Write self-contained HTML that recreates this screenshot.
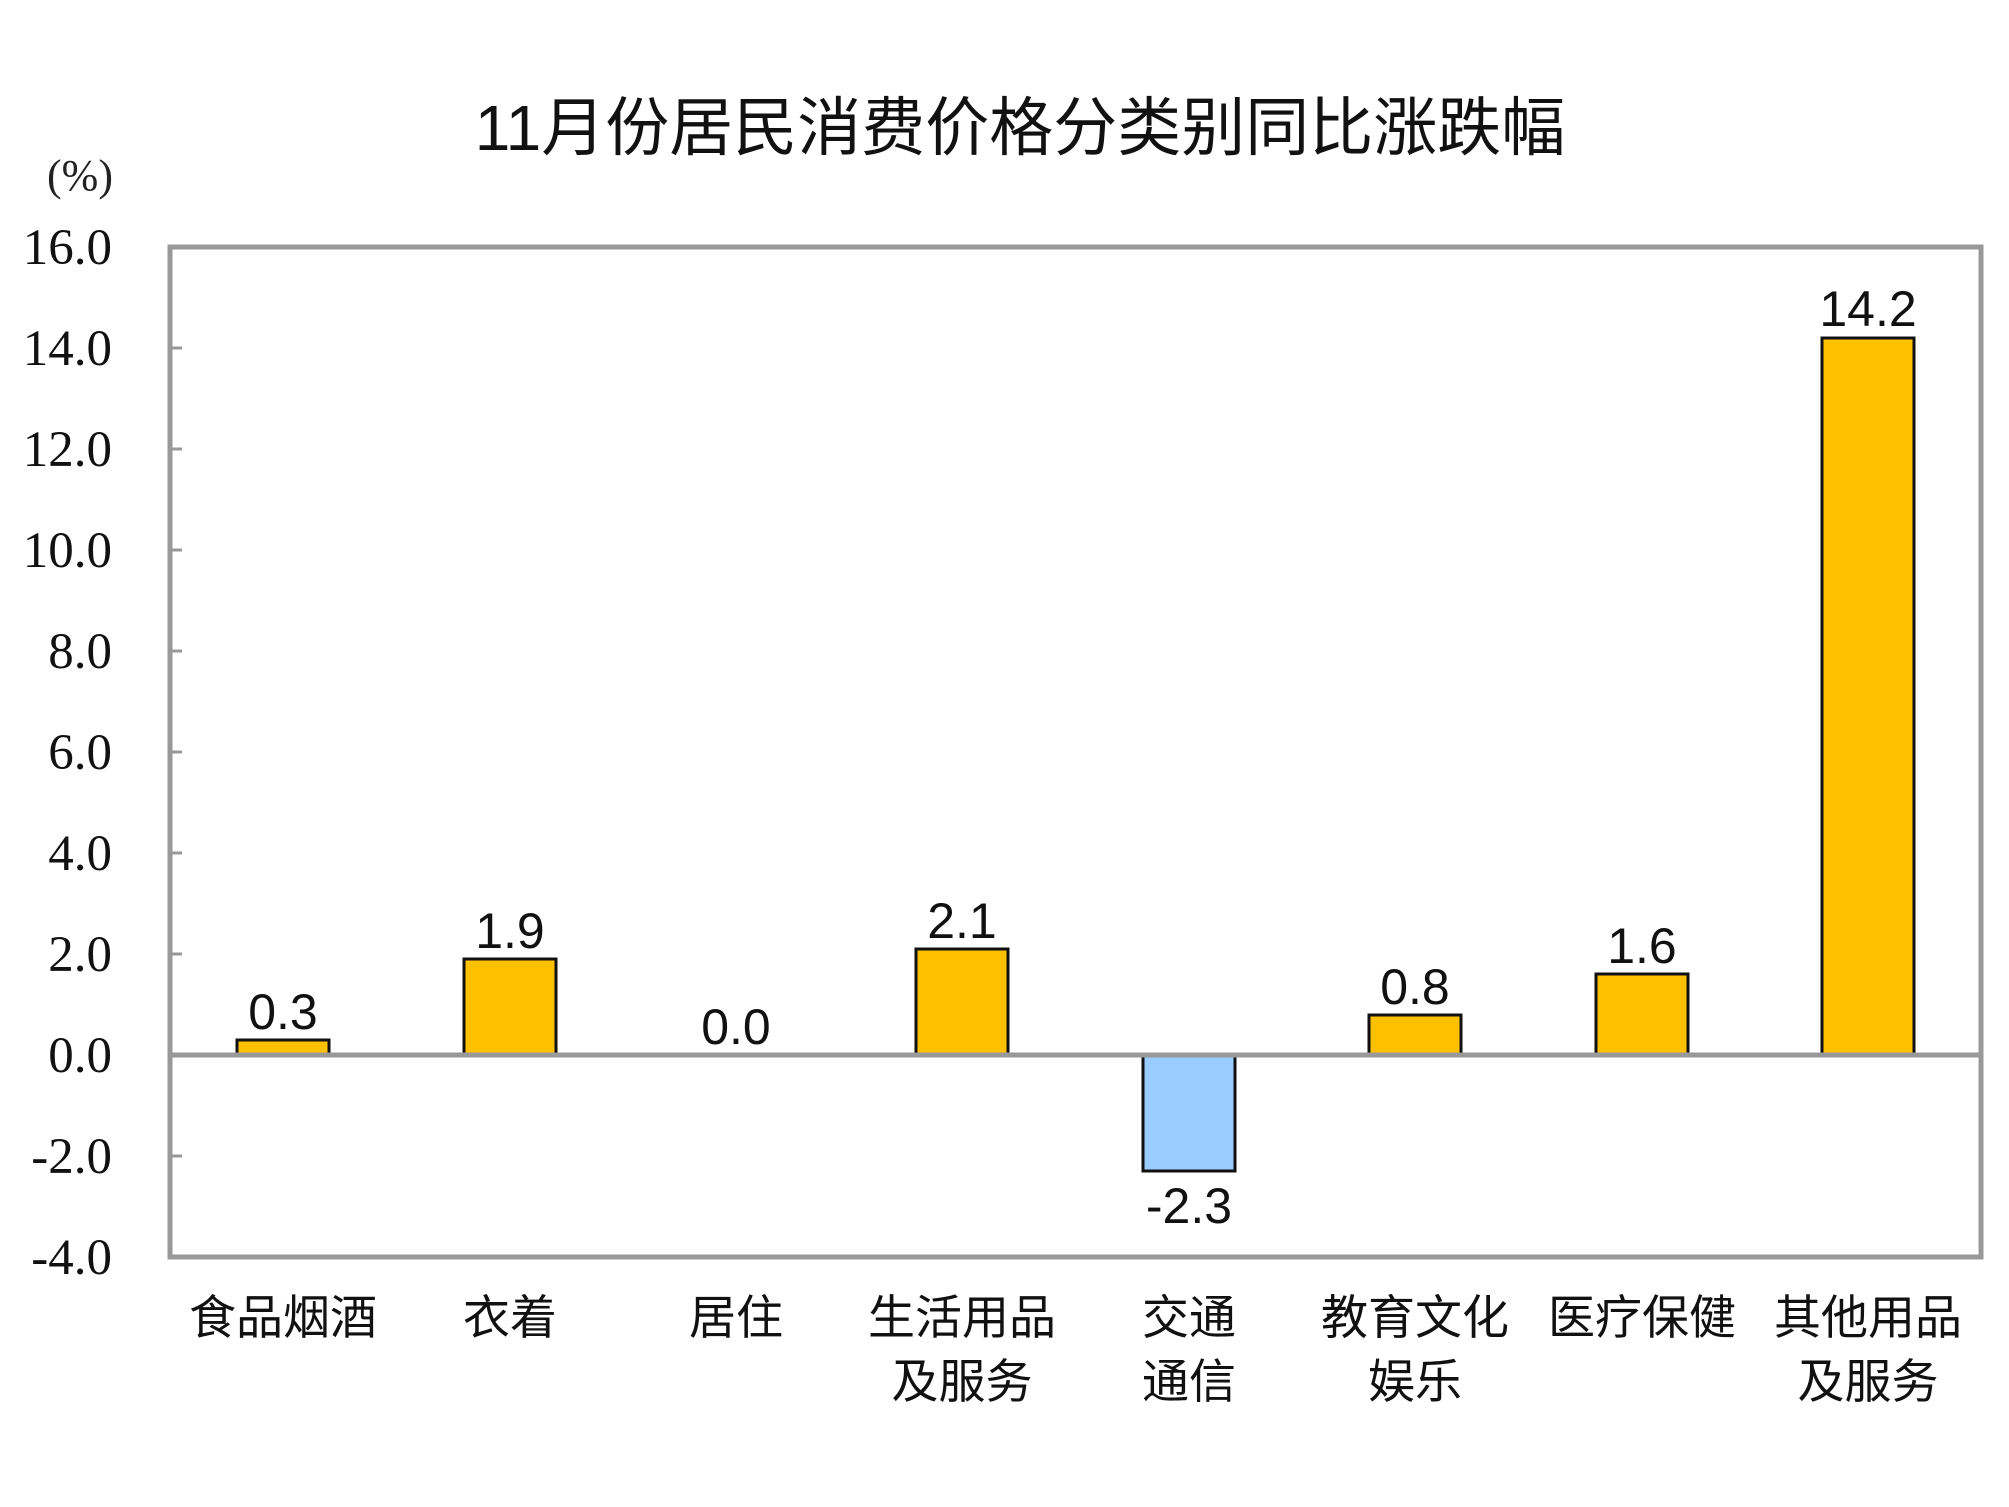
<!DOCTYPE html>
<html><head><meta charset="utf-8"><style>html,body{margin:0;padding:0;background:#fff;}svg{display:block}</style></head>
<body>
<svg width="2009" height="1507" viewBox="0 0 2009 1507" xmlns="http://www.w3.org/2000/svg">
<rect width="2009" height="1507" fill="#fff"/>
<text x="1020" y="150" text-anchor="middle" font-family="Liberation Sans, Noto Sans CJK SC, sans-serif" font-size="64" fill="#111">11月份居民消费价格分类别同比涨跌幅</text>
<text x="80" y="190" text-anchor="middle" font-family="Liberation Serif, serif" font-size="44" fill="#222">(%)</text>
<g font-family="Liberation Serif, serif" font-size="51" fill="#111" text-anchor="end">
<text x="112" y="264">16.0</text>
<text x="112" y="365">14.0</text>
<text x="112" y="466">12.0</text>
<text x="112" y="567">10.0</text>
<text x="112" y="668">8.0</text>
<text x="112" y="769">6.0</text>
<text x="112" y="870">4.0</text>
<text x="112" y="971">2.0</text>
<text x="112" y="1072">0.0</text>
<text x="112" y="1173">-2.0</text>
<text x="112" y="1274">-4.0</text>
</g>
<g stroke="#999" stroke-width="3">
<line x1="170" y1="348" x2="182" y2="348"/><line x1="170" y1="449" x2="182" y2="449"/>
<line x1="170" y1="550" x2="182" y2="550"/><line x1="170" y1="651" x2="182" y2="651"/>
<line x1="170" y1="752" x2="182" y2="752"/><line x1="170" y1="853" x2="182" y2="853"/>
<line x1="170" y1="954" x2="182" y2="954"/><line x1="170" y1="1156" x2="182" y2="1156"/>
</g>
<g stroke="#111" stroke-width="3">
<rect x="237" y="1040" width="92" height="15" fill="#FFC000"/>
<rect x="464" y="959" width="92" height="96" fill="#FFC000"/>
<rect x="916" y="949" width="92" height="106" fill="#FFC000"/>
<rect x="1143" y="1055" width="92" height="116" fill="#99CCFF"/>
<rect x="1369" y="1015" width="92" height="40" fill="#FFC000"/>
<rect x="1596" y="974" width="92" height="81" fill="#FFC000"/>
<rect x="1822" y="338" width="92" height="717" fill="#FFC000"/>
</g>
<rect x="170" y="247" width="1811" height="1010" fill="none" stroke="#999" stroke-width="5"/>
<line x1="170" y1="1055" x2="1981" y2="1055" stroke="#999" stroke-width="5"/>
<g font-family="Liberation Sans, sans-serif" font-size="50" fill="#111" text-anchor="middle">
<text x="283" y="1029">0.3</text>
<text x="510" y="948">1.9</text>
<text x="736" y="1044">0.0</text>
<text x="962" y="938">2.1</text>
<text x="1189" y="1223">-2.3</text>
<text x="1415" y="1004">0.8</text>
<text x="1642" y="963">1.6</text>
<text x="1868" y="326">14.2</text>
</g>
<g font-family="Liberation Sans, Noto Sans CJK SC, sans-serif" font-size="47" fill="#111" text-anchor="middle">
<text x="283" y="1334">食品烟酒</text>
<text x="510" y="1334">衣着</text>
<text x="736" y="1334">居住</text>
<text x="962" y="1334">生活用品</text><text x="962" y="1398">及服务</text>
<text x="1189" y="1334">交通</text><text x="1189" y="1398">通信</text>
<text x="1415" y="1334">教育文化</text><text x="1415" y="1398">娱乐</text>
<text x="1642" y="1334">医疗保健</text>
<text x="1868" y="1334">其他用品</text><text x="1868" y="1398">及服务</text>
</g>
</svg>
</body></html>
